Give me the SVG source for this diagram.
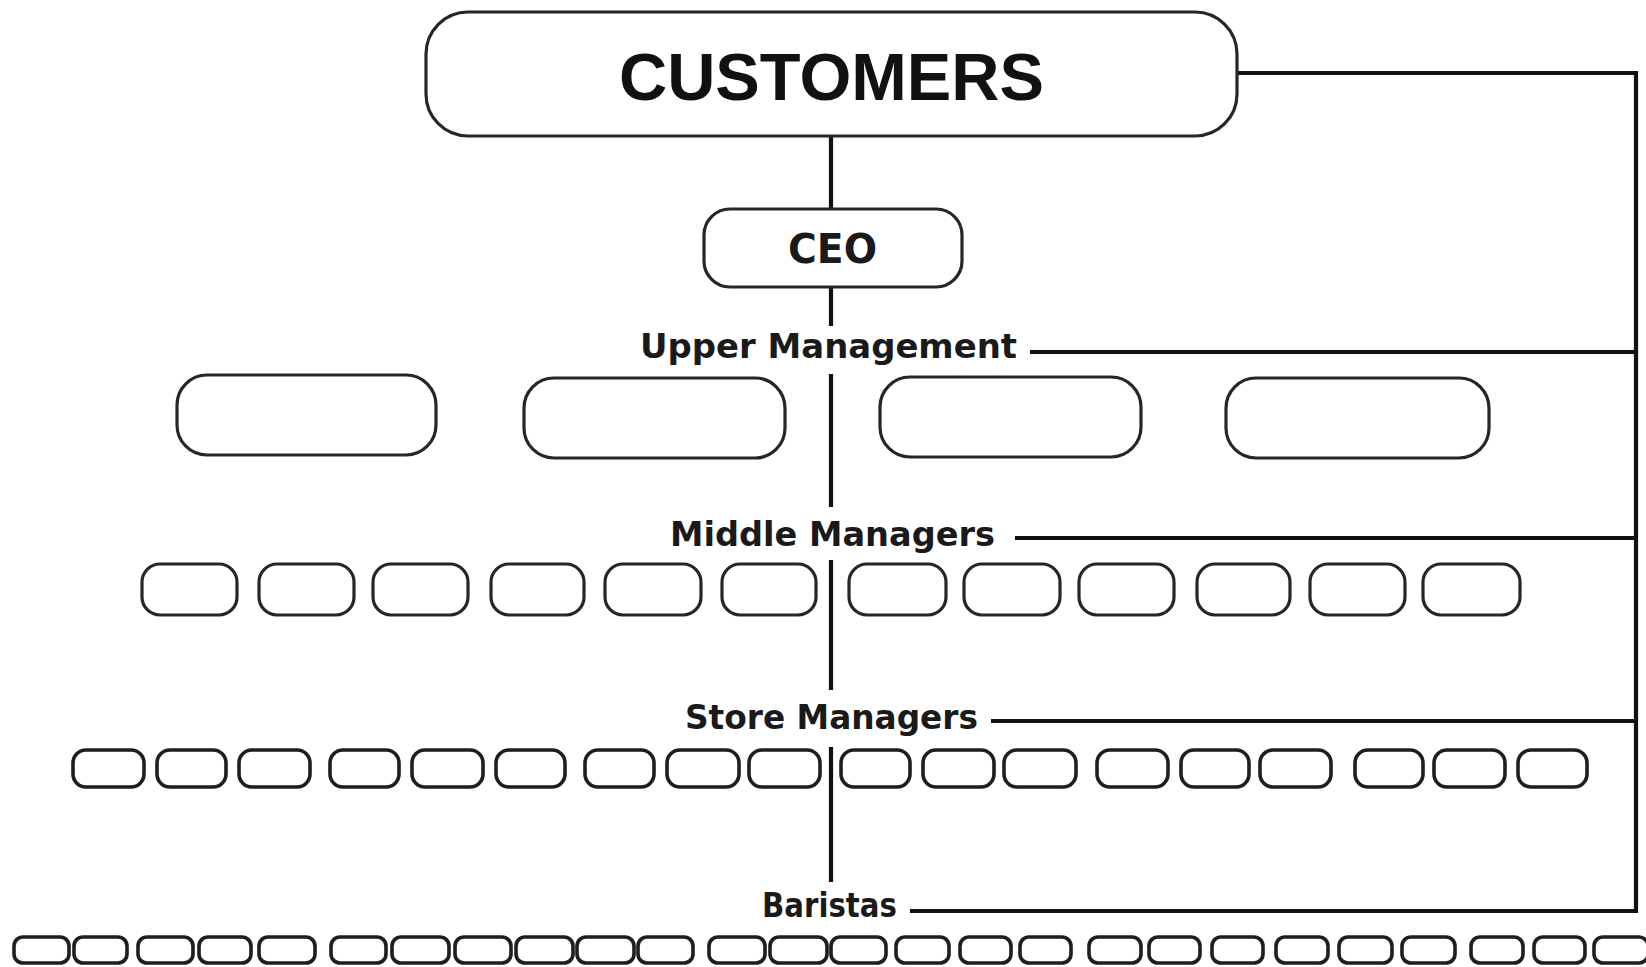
<svg xmlns="http://www.w3.org/2000/svg" width="1646" height="967" viewBox="0 0 1646 967">
  <style>
    .box { fill: #ffffff; stroke: #262626; stroke-width: 3.2; }
    .small { stroke-width: 3.6; stroke: #1e1e1e; }
    .wire { fill: none; stroke: #111111; stroke-width: 4.2; }
    .title { font-family: "Liberation Sans", Arial, sans-serif; font-weight: bold; font-size: 66px; fill: #111111; }
    .label { font-family: "DejaVu Sans", "Liberation Sans", sans-serif; font-weight: bold; fill: #1a1a1a; }
  </style>
  <rect width="1646" height="967" fill="#ffffff"/>

  <!-- connectors -->
  <g id="connectors">
    <!-- central spine -->
    <path class="wire" d="M831 137 V209"/>
    <path class="wire" d="M831 287 V326"/>
    <path class="wire" d="M831 374 V507"/>
    <path class="wire" d="M831 560 V690"/>
    <path class="wire" d="M831 747 V882"/>
    <!-- feedback rail on the right -->
    <path class="wire" d="M1237 73 H1636 V911 H910"/>
    <path class="wire" d="M1030 352 H1636"/>
    <path class="wire" d="M1015 538 H1636"/>
    <path class="wire" d="M991 721 H1636"/>
  </g>

  <g id="customers">
    <rect class="box" x="426" y="12" width="811" height="124" rx="42" stroke-width="3.8"/>
    <text class="title" x="831.5" y="100" text-anchor="middle" textLength="425" lengthAdjust="spacingAndGlyphs">CUSTOMERS</text>
  </g>

  <g id="ceo">
    <rect class="box" x="704" y="209" width="258" height="78" rx="26"/>
    <text class="label" x="832.5" y="263" font-size="40" text-anchor="middle" textLength="89" lengthAdjust="spacingAndGlyphs">CEO</text>
  </g>

  <g id="label-upper">
    <text class="label" x="640" y="358" font-size="34" textLength="377" lengthAdjust="spacingAndGlyphs">Upper Management</text>
  </g>
  <g id="label-middle">
    <text class="label" x="670" y="546" font-size="33" textLength="325" lengthAdjust="spacingAndGlyphs">Middle Managers</text>
  </g>
  <g id="label-store">
    <text class="label" x="685" y="729" font-size="33" textLength="293" lengthAdjust="spacingAndGlyphs">Store Managers</text>
  </g>
  <g id="label-baristas">
    <text class="label" x="762" y="917" font-size="33" textLength="135" lengthAdjust="spacingAndGlyphs">Baristas</text>
  </g>

  <!-- upper management -->
  <g id="upper-1"><rect class="box" x="177" y="375" width="259" height="80" rx="30"/></g>
  <g id="upper-2"><rect class="box" x="524" y="378" width="261" height="80" rx="30"/></g>
  <g id="upper-3"><rect class="box" x="880" y="377" width="261" height="80" rx="30"/></g>
  <g id="upper-4"><rect class="box" x="1226" y="378" width="263" height="80" rx="30"/></g>

  <!-- middle managers -->
  <g id="middle-1"><rect class="box" x="142" y="564" width="95" height="51" rx="18"/></g>
  <g id="middle-2"><rect class="box" x="259" y="564" width="95" height="51" rx="18"/></g>
  <g id="middle-3"><rect class="box" x="373" y="564" width="95" height="51" rx="18"/></g>
  <g id="middle-4"><rect class="box" x="491" y="564" width="93" height="51" rx="18"/></g>
  <g id="middle-5"><rect class="box" x="605" y="564" width="96" height="51" rx="18"/></g>
  <g id="middle-6"><rect class="box" x="722" y="564" width="94" height="51" rx="18"/></g>
  <g id="middle-7"><rect class="box" x="849" y="564" width="97" height="51" rx="18"/></g>
  <g id="middle-8"><rect class="box" x="964" y="564" width="96" height="51" rx="18"/></g>
  <g id="middle-9"><rect class="box" x="1079" y="564" width="95" height="51" rx="18"/></g>
  <g id="middle-10"><rect class="box" x="1197" y="564" width="93" height="51" rx="18"/></g>
  <g id="middle-11"><rect class="box" x="1310" y="564" width="95" height="51" rx="18"/></g>
  <g id="middle-12"><rect class="box" x="1423" y="564" width="97" height="51" rx="18"/></g>

  <!-- store managers -->
  <g id="store-1"><rect class="box small" x="73" y="750" width="71" height="37" rx="13"/></g>
  <g id="store-2"><rect class="box small" x="157" y="750" width="69" height="37" rx="13"/></g>
  <g id="store-3"><rect class="box small" x="239" y="750" width="71" height="37" rx="13"/></g>
  <g id="store-4"><rect class="box small" x="330" y="750" width="69" height="37" rx="13"/></g>
  <g id="store-5"><rect class="box small" x="412" y="750" width="71" height="37" rx="13"/></g>
  <g id="store-6"><rect class="box small" x="496" y="750" width="69" height="37" rx="13"/></g>
  <g id="store-7"><rect class="box small" x="585" y="750" width="69" height="37" rx="13"/></g>
  <g id="store-8"><rect class="box small" x="667" y="750" width="72" height="37" rx="13"/></g>
  <g id="store-9"><rect class="box small" x="749" y="750" width="71" height="37" rx="13"/></g>
  <g id="store-10"><rect class="box small" x="841" y="750" width="69" height="37" rx="13"/></g>
  <g id="store-11"><rect class="box small" x="923" y="750" width="71" height="37" rx="13"/></g>
  <g id="store-12"><rect class="box small" x="1004" y="750" width="72" height="37" rx="13"/></g>
  <g id="store-13"><rect class="box small" x="1097" y="750" width="71" height="37" rx="13"/></g>
  <g id="store-14"><rect class="box small" x="1181" y="750" width="68" height="37" rx="13"/></g>
  <g id="store-15"><rect class="box small" x="1260" y="750" width="71" height="37" rx="13"/></g>
  <g id="store-16"><rect class="box small" x="1355" y="750" width="68" height="37" rx="13"/></g>
  <g id="store-17"><rect class="box small" x="1434" y="750" width="71" height="37" rx="13"/></g>
  <g id="store-18"><rect class="box small" x="1518" y="750" width="69" height="37" rx="13"/></g>

  <!-- baristas -->
  <g id="barista-1"><rect class="box small" x="14" y="937" width="55" height="26" rx="9"/></g>
  <g id="barista-2"><rect class="box small" x="74" y="937" width="53" height="26" rx="9"/></g>
  <g id="barista-3"><rect class="box small" x="138" y="937" width="55" height="26" rx="9"/></g>
  <g id="barista-4"><rect class="box small" x="199" y="937" width="52" height="26" rx="9"/></g>
  <g id="barista-5"><rect class="box small" x="259" y="937" width="56" height="26" rx="9"/></g>
  <g id="barista-6"><rect class="box small" x="331" y="937" width="55" height="26" rx="9"/></g>
  <g id="barista-7"><rect class="box small" x="392" y="937" width="57" height="26" rx="9"/></g>
  <g id="barista-8"><rect class="box small" x="455" y="937" width="56" height="26" rx="9"/></g>
  <g id="barista-9"><rect class="box small" x="516" y="937" width="57" height="26" rx="9"/></g>
  <g id="barista-10"><rect class="box small" x="577" y="937" width="57" height="26" rx="9"/></g>
  <g id="barista-11"><rect class="box small" x="638" y="937" width="55" height="26" rx="9"/></g>
  <g id="barista-12"><rect class="box small" x="709" y="937" width="56" height="26" rx="9"/></g>
  <g id="barista-13"><rect class="box small" x="770" y="937" width="57" height="26" rx="9"/></g>
  <g id="barista-14"><rect class="box small" x="831" y="937" width="55" height="26" rx="9"/></g>
  <g id="barista-15"><rect class="box small" x="896" y="937" width="53" height="26" rx="9"/></g>
  <g id="barista-16"><rect class="box small" x="960" y="937" width="51" height="26" rx="9"/></g>
  <g id="barista-17"><rect class="box small" x="1020" y="937" width="51" height="26" rx="9"/></g>
  <g id="barista-18"><rect class="box small" x="1089" y="937" width="52" height="26" rx="9"/></g>
  <g id="barista-19"><rect class="box small" x="1149" y="937" width="51" height="26" rx="9"/></g>
  <g id="barista-20"><rect class="box small" x="1212" y="937" width="51" height="26" rx="9"/></g>
  <g id="barista-21"><rect class="box small" x="1276" y="937" width="52" height="26" rx="9"/></g>
  <g id="barista-22"><rect class="box small" x="1339" y="937" width="53" height="26" rx="9"/></g>
  <g id="barista-23"><rect class="box small" x="1402" y="937" width="53" height="26" rx="9"/></g>
  <g id="barista-24"><rect class="box small" x="1471" y="937" width="52" height="26" rx="9"/></g>
  <g id="barista-25"><rect class="box small" x="1534" y="937" width="51" height="26" rx="9"/></g>
  <g id="barista-26"><rect class="box small" x="1594" y="937" width="54" height="26" rx="9"/></g>
</svg>
